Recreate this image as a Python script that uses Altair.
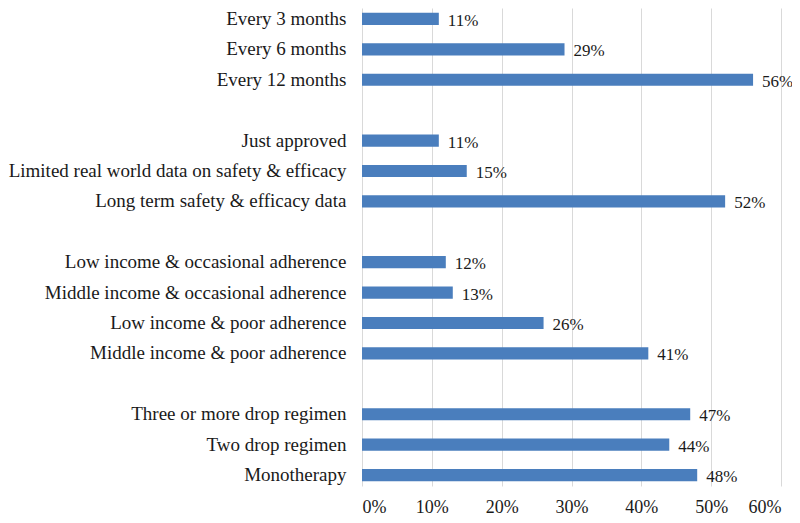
import altair as alt
import pandas as pd

categories = [
    "Every 3 months", "Every 6 months", "Every 12 months",
    "Just approved", "Limited real world data on safety & efficacy", "Long term safety & efficacy data",
    "Low income  & occasional adherence", "Middle income & occasional adherence",
    "Low income & poor adherence", "Middle income & poor adherence",
    "Three or more drop regimen", "Two drop regimen", "Monotherapy",
]
values = [11, 29, 56, 11, 15, 52, 12, 13, 26, 41, 47, 44, 48]

# display order with blank spacer rows between groups
domain = [
    "Every 3 months", "Every 6 months", "Every 12 months", " ",
    "Just approved", "Limited real world data on safety & efficacy", "Long term safety & efficacy data", "  ",
    "Low income  & occasional adherence", "Middle income & occasional adherence",
    "Low income & poor adherence", "Middle income & poor adherence", "   ",
    "Three or more drop regimen", "Two drop regimen", "Monotherapy",
]

df = pd.DataFrame({"cat": categories, "val": [v / 100 for v in values]})

FONT = "Liberation Serif"
TXT = "#1a1a1a"

y = alt.Y("cat:N", scale=alt.Scale(domain=domain, paddingInner=0.6, paddingOuter=0.16),
          axis=alt.Axis(title=None, domain=False, ticks=False, labelPadding=16,
                        labelFont=FONT, labelFontSize=19, labelColor=TXT,
                        labelLimit=400))
x = alt.X("val:Q", scale=alt.Scale(domain=[0, 0.6], nice=False),
          axis=alt.Axis(title=None, format="%", values=[0, 0.1, 0.2, 0.3, 0.4, 0.5, 0.6],
                        domain=False, ticks=False, grid=True, gridColor="#d9d9d9",
                        labelFont=FONT, labelFontSize=18, labelColor=TXT,
                        labelPadding=12))

bars = alt.Chart(df).mark_bar(color="#4a7ebd").encode(x=x, y=y)
labels = alt.Chart(df).mark_text(align="left", baseline="middle", dx=9, dy=2,
                                 font=FONT, fontSize=17, color=TXT).encode(
    x=x, y=y, text=alt.Text("val:Q", format=".0%"))

chart = (bars + labels).properties(
    width=419, height=478,
    autosize=alt.AutoSizeParams(type="none"),
    padding={"left": 354, "top": 0, "right": 11, "bottom": 29},
).configure_view(stroke=None)

chart.save("out.html", embed_options={"renderer": "svg", "actions": False})
